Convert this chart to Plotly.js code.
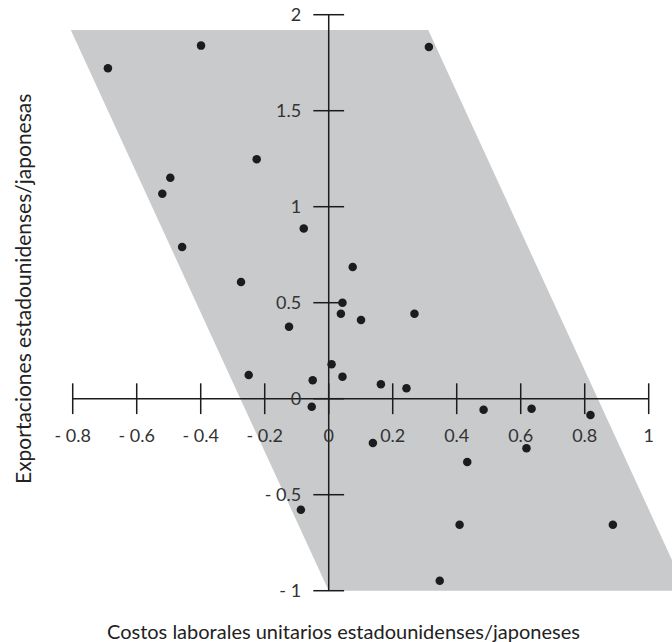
<!DOCTYPE html>
<html>
<head>
<meta charset="utf-8">
<script src="https://cdn.plot.ly/plotly-3.0.1.min.js"></script>
<style>html,body{margin:0;padding:0;background:#fff;}#chart{width:672px;height:642px;}</style>
</head>
<body>
<div id="chart"></div>
<script>
// Data points (US/Japan unit labour costs vs exports)
const laborCost = [-0.690, -0.399, 0.313, -0.225, -0.495, -0.520, -0.078, -0.458, 0.075, -0.274,
  0.043, 0.038, 0.268, 0.101, -0.124, 0.009, -0.250, -0.050, 0.043, 0.163,
  0.243, -0.053, 0.484, 0.634, 0.818, 0.138, 0.618, 0.433, -0.087, 0.409,
  0.888, 0.347];
const exportsRatio = [1.721, 1.839, 1.832, 1.247, 1.151, 1.068, 0.887, 0.790, 0.686, 0.608,
  0.500, 0.443, 0.443, 0.410, 0.375, 0.179, 0.123, 0.096, 0.115, 0.075,
  0.054, -0.042, -0.057, -0.052, -0.085, -0.231, -0.258, -0.330, -0.578, -0.656,
  -0.656, -0.948];

// Shaded band (parallelogram)
const bandX = [-0.806, 0.311, 1.117, 0.0, -0.806];
const bandY = [1.92, 1.92, -1.0, -1.0, 1.92];

// Tick values and labels
const xTicks = [-0.8, -0.6, -0.4, -0.2, 0, 0.2, 0.4, 0.6, 0.8, 1];
const xTickLabels = ['- 0.8', '- 0.6', '- 0.4', '- 0.2', '0', '0.2', '0.4', '0.6', '0.8', '1'];
const yTicks = [-1, -0.5, 0, 0.5, 1, 1.5, 2];
const yTickLabels = ['- 1', '- 0.5', '0', '0.5', '1', '1.5', '2'];

const xTitle = 'Costos laborales unitarios estadounidenses/japoneses';
const yTitle = 'Exportaciones estadounidenses/japonesas';

const xRange = [-0.8866, 1.0728];
const yRange = [-1.0484, 2.0766];

const ink = '#1c1c1c';
const FONT = 'Lato, "Noto Sans", sans-serif';

const zeros = n => new Array(n).fill(0);

const traces = [
  {x: bandX, y: bandY, type: 'scatter', mode: 'lines', fill: 'toself',
   fillcolor: '#c9cacc', line: {width: 0}, hoverinfo: 'skip'},
  {x: [xTicks[0], xTicks[xTicks.length - 1]], y: [0, 0], type: 'scatter', mode: 'lines',
   line: {color: ink, width: 1.5}, hoverinfo: 'skip'},
  {x: [0, 0], y: [yTicks[0], yTicks[yTicks.length - 1]], type: 'scatter', mode: 'lines',
   line: {color: ink, width: 1.5}, hoverinfo: 'skip'},
  {x: xTicks, y: zeros(xTicks.length), type: 'scatter', mode: 'markers',
   marker: {symbol: 'line-ns', size: 22, line: {color: ink, width: 1.5}}, hoverinfo: 'skip'},
  {x: zeros(yTicks.length), y: yTicks, type: 'scatter', mode: 'markers',
   marker: {symbol: 'line-ew', size: 22, line: {color: ink, width: 1.5}}, hoverinfo: 'skip'},
  {x: laborCost, y: exportsRatio, type: 'scatter', mode: 'markers',
   marker: {color: ink, size: 8.5}}
];

const xPos = (0 - yRange[0]) / (yRange[1] - yRange[0]);
const yPos = (0 - xRange[0]) / (xRange[1] - xRange[0]);

const layout = {
  width: 672, height: 642,
  margin: {l: 45, r: 0, t: 0, b: 42, pad: 0},
  paper_bgcolor: '#fff', plot_bgcolor: 'rgba(0,0,0,0)',
  showlegend: false,
  font: {family: FONT, color: '#333', size: 18},
  xaxis: {range: xRange, anchor: 'free', position: xPos, showgrid: false, zeroline: false,
    showline: false, tickmode: 'array', tickvals: xTicks, ticktext: xTickLabels,
    ticks: 'outside', ticklen: 10, tickwidth: 1.5, tickcolor: ink, ticklabelstandoff: 11,
    tickfont: {family: FONT, size: 18, color: '#333'}, fixedrange: true},
  yaxis: {range: yRange, anchor: 'free', position: yPos, showgrid: false, zeroline: false,
    showline: false, tickmode: 'array', tickvals: yTicks, ticktext: yTickLabels,
    ticks: 'outside', ticklen: 10, tickwidth: 1.5, tickcolor: ink, ticklabelstandoff: 14,
    tickfont: {family: FONT, size: 18, color: '#333'}, fixedrange: true},
  annotations: [
    {text: xTitle, xref: 'paper', yref: 'paper', x: (343 - 45) / 627, y: -(631 - 600) / 600,
     xanchor: 'center', yanchor: 'middle', showarrow: false,
     font: {family: FONT, size: 20, color: '#222'}},
    {text: yTitle, xref: 'paper', yref: 'paper', x: (22 - 45) / 627, y: 1 - 289 / 600,
     xanchor: 'center', yanchor: 'middle', textangle: -90, showarrow: false,
     font: {family: FONT, size: 21, color: '#222'}}
  ]
};

Plotly.newPlot('chart', traces, layout, {staticPlot: true, displayModeBar: false});
</script>
</body>
</html>
